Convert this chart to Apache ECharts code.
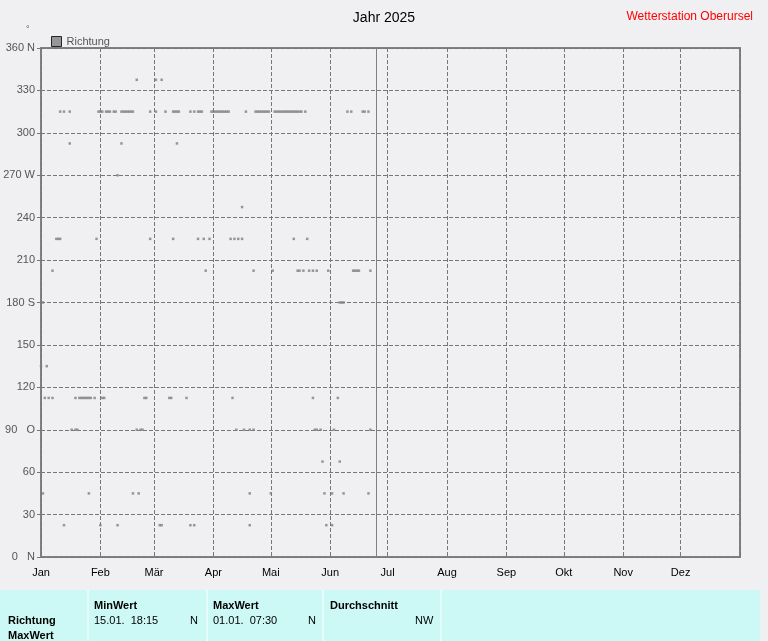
<!DOCTYPE html>
<html lang="de">
<head>
<meta charset="UTF-8">
<title>Jahr 2025</title>
<style>html,body{margin:0;padding:0;background:#f0f0f2;}</style>
</head>
<body>
<div id="chart" style="width:768px;height:641px;"></div>
<script src="https://cdn.jsdelivr.net/npm/echarts@6/dist/echarts.min.js"></script>
<script>
// Tage im Jahr (1 = 01.01.) je Windrichtung in Grad
var dir3375 = [51, 61, 64];
var dir315 = [11, 13, 16, 31, 32, 33, 35, 36, 37, 39, 40, 43, 44, 45, 46, 47, 48, 49, 58, 61, 66, 70, 71, 72, 73,
    79, 81, 83, 84, 85, 90, 91, 92, 93, 94, 95, 96, 97, 98, 99, 108, 113, 114, 115, 116, 117, 118, 119, 120,
    123, 124, 125, 126, 127, 128, 129, 130, 131, 132, 133, 134, 135, 136, 137, 139, 161, 163, 169, 170, 172];
var dir2925 = [16, 43, 72];
var dir270 = [41];
var dir2475 = [106];
var dir225 = [9, 10, 11, 30, 58, 70, 83, 86, 89, 100, 102, 104, 106, 133, 140];
var dir2025 = [7, 87, 112, 122, 135, 136, 138, 141, 143, 145, 151, 164, 165, 166, 167, 173];
var dir180 = [2, 157, 158, 159];
var dir135 = [1, 4];
var dir1125 = [3, 5, 7, 19, 21, 22, 23, 24, 25, 26, 27, 29, 33, 34, 55, 56, 68, 69, 77, 101, 143, 156];
var dir90 = [17, 19, 20, 51, 53, 54, 103, 107, 110, 112, 144, 145, 147, 154, 173];
var dir675 = [148, 157];
var dir45 = [2, 26, 49, 52, 110, 121, 149, 153, 159, 172];
var dir225b = [13, 32, 41, 63, 64, 79, 81, 110, 150, 153];
var heute = 176;

var monate = ['Jan', 'Feb', 'Mär', 'Apr', 'Mai', 'Jun', 'Jul', 'Aug', 'Sep', 'Okt', 'Nov', 'Dez'];
var yLabels = {0: '0   N', 90: '90   O', 180: '180 S', 270: '270 W', 360: '360 N'};

function tag(d) { return new Date(2025, 0, d).getTime(); }

var punkte = [];
[[337.5, dir3375], [315, dir315], [292.5, dir2925], [270, dir270], [247.5, dir2475], [225, dir225],
 [202.5, dir2025], [180, dir180], [135, dir135], [112.5, dir1125], [90, dir90], [67.5, dir675],
 [45, dir45], [22.5, dir225b]].forEach(function (g) {
    g[1].forEach(function (d) { punkte.push([tag(d), g[0]]); });
});

var myChart = echarts.init(document.getElementById('chart'));
myChart.setOption({
    backgroundColor: '#f0f0f2',
    animation: false,
    textStyle: { fontFamily: 'Liberation Sans' },
    title: [
        { text: 'Jahr 2025', left: 'center', top: 6, textStyle: { fontSize: 14, fontWeight: 'normal', color: '#000' } },
        { text: 'Wetterstation Oberursel', right: 10, top: 6, textStyle: { fontSize: 12, fontWeight: 'normal', color: '#ff0000' } }
    ],
    legend: {
        left: 46, top: 31, itemWidth: 10, itemHeight: 10, itemGap: 4,
        textStyle: { fontSize: 11, color: '#555' },
        data: [{ name: 'Richtung', icon: 'rect', itemStyle: { color: '#808080', borderColor: '#000', borderWidth: 1 } }]
    },
    grid: { left: 41, right: 28, top: 48, bottom: 84, show: true, borderColor: '#808080', borderWidth: 2 },
    xAxis: {
        type: 'time',
        min: tag(1), max: tag(366),
        minInterval: 28 * 86400000, maxInterval: 31 * 86400000,
        axisLine: { show: false },
        axisTick: { show: false },
        axisLabel: {
            fontSize: 11, color: '#000', margin: 10,
            formatter: function (v) { return monate[new Date(v).getMonth()]; }
        },
        splitLine: { show: true, lineStyle: { type: 'dashed', color: '#777', width: 1 } }
    },
    yAxis: {
        type: 'value', min: 0, max: 360, interval: 30,
        axisLine: { show: false },
        axisTick: { show: true, length: 4, lineStyle: { color: '#777' } },
        axisLabel: {
            fontSize: 11, color: '#555', margin: 6,
            formatter: function (v) { return yLabels[v] || String(v); }
        },
        splitLine: { lineStyle: { type: 'dashed', color: '#777', width: 1 } }
    },
    series: [{
        name: 'Richtung', type: 'scatter', symbol: 'rect', symbolSize: [2.5, 2.5],
        itemStyle: { color: '#808080' },
        data: punkte,
        markLine: {
            silent: true, symbol: 'none', label: { show: false },
            lineStyle: { color: '#808080', type: 'solid', width: 1 },
            data: [{ xAxis: tag(heute) }]
        }
    }],
    graphic: [
        { type: 'rect', shape: { x: 0, y: 590, width: 760, height: 51 }, style: { fill: '#ccf9f5' } },
        { type: 'rect', shape: { x: 760, y: 590, width: 8, height: 51 }, style: { fill: '#f0f0f2' } },
        { type: 'line', shape: { x1: 88, y1: 590, x2: 88, y2: 641 }, style: { stroke: '#fff', lineWidth: 1 } },
        { type: 'line', shape: { x1: 207, y1: 590, x2: 207, y2: 641 }, style: { stroke: '#fff', lineWidth: 1 } },
        { type: 'line', shape: { x1: 323, y1: 590, x2: 323, y2: 641 }, style: { stroke: '#fff', lineWidth: 1 } },
        { type: 'line', shape: { x1: 441, y1: 590, x2: 441, y2: 641 }, style: { stroke: '#fff', lineWidth: 1 } },
        { type: 'text', x: 8, y: 615, style: { text: 'Richtung', font: 'bold 11px Liberation Sans', fill: '#000' } },
        { type: 'text', x: 8, y: 630, style: { text: 'MaxWert', font: 'bold 11px Liberation Sans', fill: '#000' } },
        { type: 'text', x: 94, y: 600, style: { text: 'MinWert', font: 'bold 11px Liberation Sans', fill: '#000' } },
        { type: 'text', x: 94, y: 615, style: { text: '15.01.  18:15', font: '11px Liberation Sans', fill: '#000' } },
        { type: 'text', x: 190, y: 615, style: { text: 'N', font: '11px Liberation Sans', fill: '#000' } },
        { type: 'text', x: 213, y: 600, style: { text: 'MaxWert', font: 'bold 11px Liberation Sans', fill: '#000' } },
        { type: 'text', x: 213, y: 615, style: { text: '01.01.  07:30', font: '11px Liberation Sans', fill: '#000' } },
        { type: 'text', x: 308, y: 615, style: { text: 'N', font: '11px Liberation Sans', fill: '#000' } },
        { type: 'text', x: 330, y: 600, style: { text: 'Durchschnitt', font: 'bold 11px Liberation Sans', fill: '#000' } },
        { type: 'text', x: 415, y: 615, style: { text: 'NW', font: '11px Liberation Sans', fill: '#000' } },
        { type: 'text', x: 26, y: 25, style: { text: '°', font: '9px Liberation Sans', fill: '#555' } }
    ]
});
</script>
</body>
</html>
